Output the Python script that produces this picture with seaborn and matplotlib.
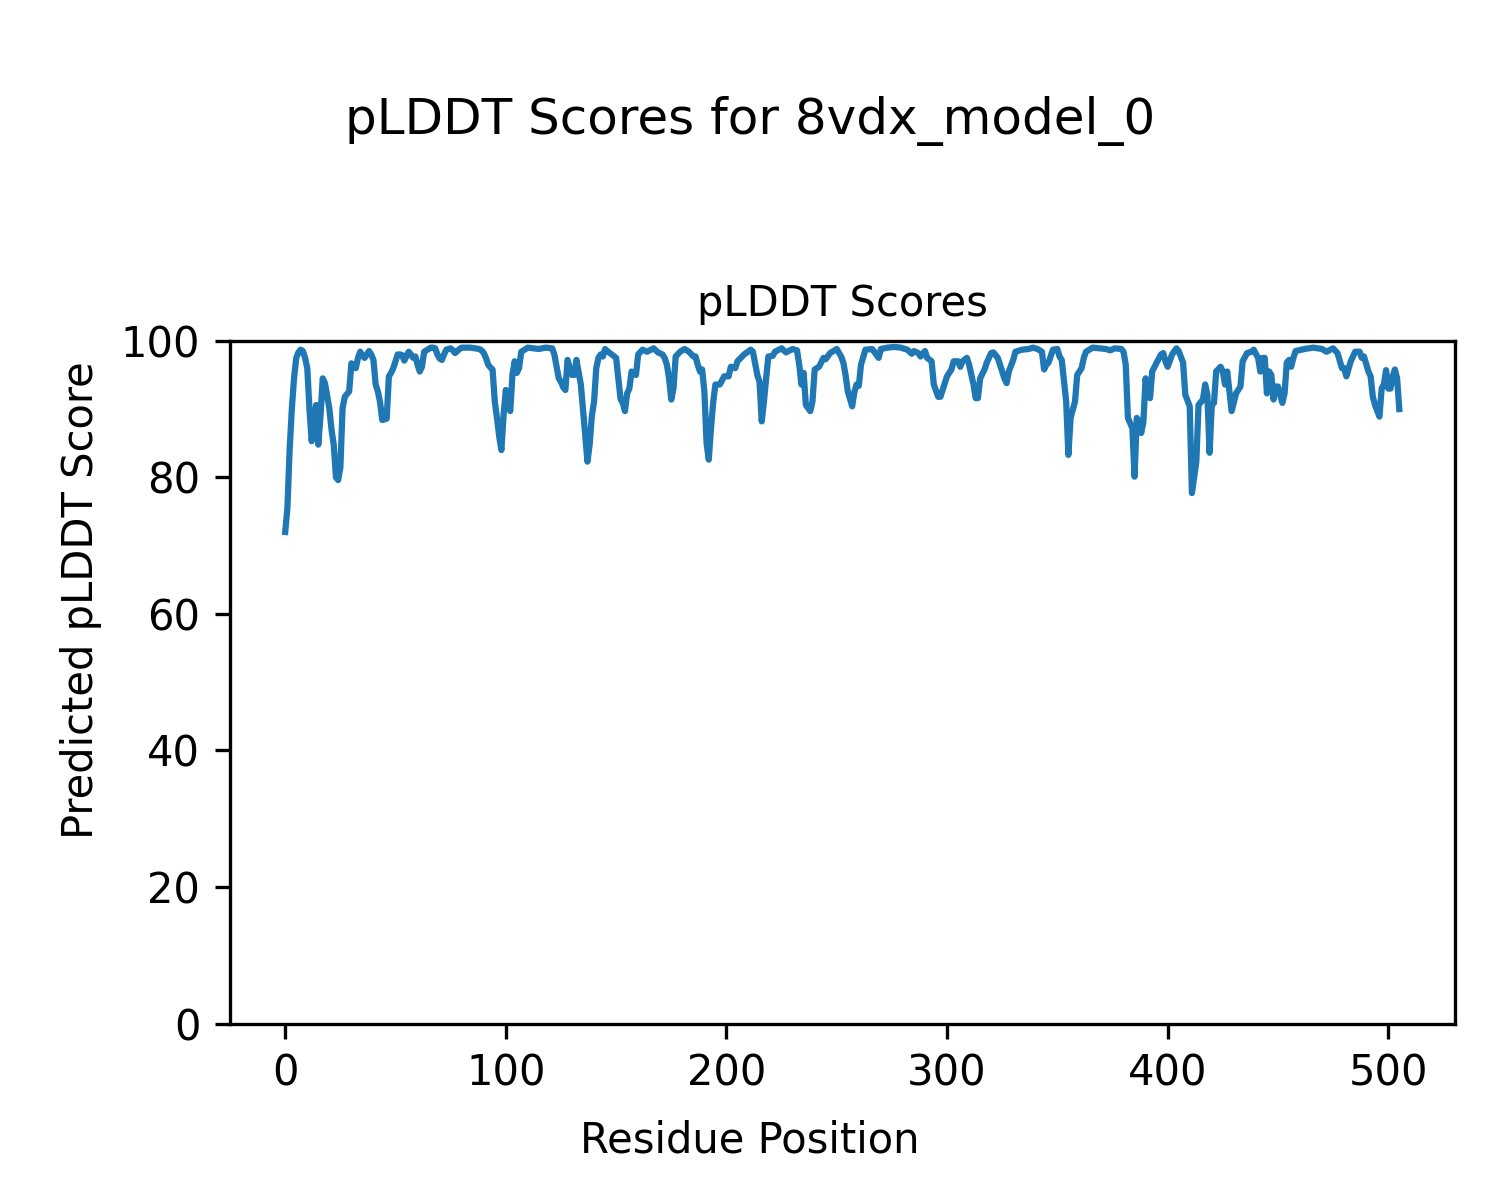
import matplotlib
matplotlib.use("Agg")
import matplotlib.pyplot as plt
import seaborn as sns
import pandas as pd

# residue positions and pLDDT values
residue = [0, 1, 2, 3, 4, 5, 6, 7, 8, 9, 10, 11, 12, 13, 14, 15, 16, 17, 18, 19,
           20, 21, 22, 23, 24, 25, 26, 27, 28, 29, 30, 31, 32, 33, 34, 35, 36, 37, 38, 39,
           40, 41, 42, 43, 44, 45, 46, 47, 48, 49, 50, 51, 52, 53, 54, 55, 56, 57, 58, 59,
           60, 61, 62, 63, 64, 65, 66, 67, 68, 69, 70, 71, 72, 73, 74, 75, 76, 77, 78, 79,
           80, 84, 88, 89, 90, 91, 92, 93, 94, 95, 96, 97, 98, 99, 100, 101, 102, 103, 104, 105,
           106, 107, 110, 115, 118, 121, 122, 124, 125, 126, 127, 128, 129, 130, 131, 132, 134, 136, 137, 138,
           139, 140, 141, 142, 143, 144, 145, 146, 148, 150, 151, 152, 153, 154, 155, 156, 157, 158, 159, 160,
           162, 164, 167, 169, 171, 172, 173, 174, 175, 176, 177, 179, 181, 183, 185, 186, 187, 188, 189, 190,
           191, 192, 193, 194, 195, 197, 199, 201, 202, 204, 205, 208, 211, 212, 214, 215, 216, 217, 218, 219,
           221, 222, 225, 227, 230, 232, 233, 234, 235, 236, 238, 239, 240, 242, 244, 245, 247, 250, 252, 253,
           254, 255, 257, 258, 259, 260, 261, 263, 266, 267, 269, 270, 273, 276, 279, 282, 284, 285, 287, 288,
           290, 291, 293, 294, 296, 297, 298, 300, 302, 303, 305, 306, 307, 309, 310, 312, 313, 314, 315, 317,
           318, 320, 321, 323, 324, 326, 327, 328, 330, 331, 334, 337, 339, 341, 343, 344, 345, 346, 348, 350,
           351, 352, 354, 355, 356, 358, 359, 361, 362, 363, 366, 369, 372, 374, 376, 379, 380, 381, 382, 384,
           385, 386, 387, 388, 389, 390, 391, 392, 393, 395, 397, 398, 399, 400, 402, 404, 405, 407, 408, 410,
           411, 413, 414, 416, 417, 418, 419, 420, 421, 422, 424, 425, 426, 427, 429, 431, 433, 434, 436, 438,
           439, 441, 442, 443, 444, 445, 446, 447, 448, 449, 450, 452, 453, 454, 455, 456, 457, 458, 462, 466,
           470, 472, 475, 477, 479, 480, 481, 483, 485, 487, 488, 489, 491, 492, 493, 494, 496, 497, 498, 499,
           500, 501, 502, 503, 504, 505]
plddt = [72, 75.5, 84, 90, 94.5, 97.5, 98.3, 98.7, 98.5, 97.5, 96, 90, 85.3, 88, 90.6, 84.8, 89, 94.5, 93.8, 92,
         90.1, 87, 84.8, 80, 79.6, 81.4, 90.1, 91.8, 92.2, 92.6, 96.7, 96.5, 96, 97.5, 98.4, 97.8, 97.5, 98, 98.5, 98,
         97.2, 93.6, 92.6, 91, 88.4, 88.5, 88.6, 94.8, 95.3, 96, 97, 98, 98, 97.9, 97.1, 97.8, 98.4, 98, 97.5, 97.7,
         96.5, 95.5, 96.2, 98.4, 98.6, 98.8, 99, 99, 98.9, 98, 97.4, 97.2, 98, 98.7, 98.8, 98.9, 98.6, 98.2, 98.5, 98.8,
         99, 99, 98.8, 98.6, 98.2, 97.5, 96.5, 96.1, 95.8, 91.1, 88.7, 86, 84, 89.2, 92.8, 91.4, 89.7, 95, 97, 95.3,
         96, 98.4, 99, 98.8, 99, 98.9, 98, 94.5, 94, 93.2, 92.8, 97.2, 96, 95, 95, 97.2, 93.6, 86.2, 82.3, 84.8,
         89, 91.1, 96, 97.5, 98, 97.7, 98.8, 98.5, 98, 97.5, 94.5, 91.5, 90.9, 89.7, 92.3, 93, 95.5, 95.3, 95, 98,
         98.7, 98.4, 98.9, 98.3, 98, 97.5, 96.5, 94.5, 91.4, 93, 97.7, 98.4, 98.8, 98.4, 97.7, 97.7, 96.5, 95.5, 95.8, 92.6,
         85, 82.6, 87.2, 91, 93.6, 93.6, 94.8, 94.8, 96.2, 96, 97, 98, 98.7, 98.4, 95, 94, 88.2, 91.1, 94.5, 97.7,
         97.8, 98.4, 98.9, 98.3, 98.8, 98.6, 96.5, 93.6, 95.3, 90.6, 89.7, 91.1, 95.8, 96.2, 97.5, 97.3, 98.2, 98.8, 97.7, 96.8,
         95, 92.6, 90.4, 92.5, 93.6, 93.4, 96.5, 98.7, 98.8, 98.4, 97.5, 98.8, 99, 99.1, 99, 98.7, 98.1, 98.5, 98.2, 97.7,
         98.5, 97.5, 97, 93.6, 91.8, 91.8, 92.8, 94.8, 95.8, 97, 97, 96.2, 97, 97.5, 96.5, 93.6, 91.6, 91.6, 94.5, 95.8,
         96.8, 98.2, 98.3, 97.5, 96.5, 94.5, 93.8, 95.5, 97.2, 98.4, 98.7, 98.8, 99, 98.8, 98.4, 95.8, 96.5, 96.8, 98.7, 98.8,
         97.7, 97.2, 91.1, 83.3, 88.7, 91.1, 95, 96, 97.5, 98.4, 99, 98.9, 98.8, 98.6, 98.9, 98.8, 98.4, 96.5, 88.7, 87.2,
         80.1, 88.7, 88.2, 86.5, 88.1, 94.5, 92.1, 91.6, 95.5, 96.8, 98, 98.2, 97, 96.2, 98, 98.9, 98.5, 96.8, 92.1, 90.4,
         77.7, 82.3, 90.6, 91.4, 93.6, 92.1, 83.6, 90.6, 90.9, 95.5, 96.2, 95.5, 93.6, 95.5, 89.7, 92.3, 93.3, 97, 98.2, 98.4,
         98.7, 97.5, 95.5, 97.5, 97.5, 92.3, 95.5, 95, 91.4, 93.3, 93.3, 90.9, 92.3, 96.8, 97.2, 96.2, 97.5, 98.5, 98.8, 99,
         98.8, 98.4, 98.9, 98.2, 96, 96, 94.8, 97, 98.4, 98.4, 97.5, 97.7, 95.5, 94.8, 91.8, 90.6, 88.9, 93, 93.6, 95.7,
         93, 93, 94.8, 95.8, 94.5, 90]

df = pd.DataFrame({"Residue Position": residue, "pLDDT": plddt})

fig = plt.figure(figsize=(5, 4), dpi=300)
ax = fig.add_axes([0.153, 0.147, 0.817, 0.569])
sns.lineplot(data=df, x="Residue Position", y="pLDDT", color="#1f77b4", linewidth=1.5, ax=ax)
ax.set_ylim(0, 100)
ax.set_title("pLDDT Scores", fontsize=10)
ax.set_xlabel("")
ax.set_ylabel("")
ax.tick_params(labelsize=10)
fig.suptitle("pLDDT Scores for 8vdx_model_0", fontsize=12, y=0.92)
fig.supxlabel("Residue Position", fontsize=10, y=0.032)
fig.supylabel("Predicted pLDDT Score", fontsize=10, x=0.04)

plt.savefig("out.png", dpi=300)
